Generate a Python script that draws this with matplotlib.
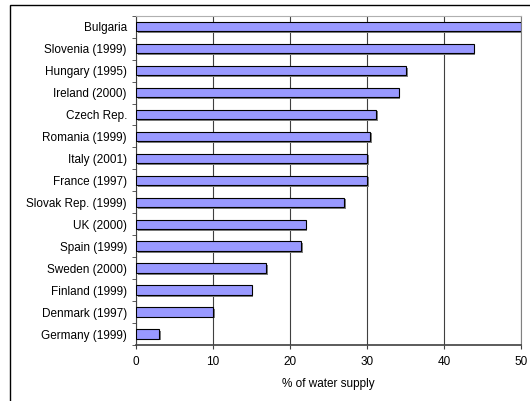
import matplotlib
matplotlib.use("Agg")
import matplotlib.pyplot as plt
import matplotlib.patheffects as pe
from matplotlib.patches import Rectangle

countries = ["Bulgaria", "Slovenia (1999)", "Hungary (1995)", "Ireland (2000)",
             "Czech Rep.", "Romania (1999)", "Italy (2001)", "France (1997)",
             "Slovak Rep. (1999)", "UK (2000)", "Spain (1999)", "Sweden (2000)",
             "Finland (1999)", "Denmark (1997)", "Germany (1999)"]
values = [50, 43.8, 35.1, 34.1, 31.2, 30.4, 30.0, 30.0, 27.0, 22.0, 21.4,
          16.9, 15.0, 10.0, 3.0]
xticks = [0, 10, 20, 30, 40, 50]

plt.rcParams['font.family'] = ['Liberation Sans', 'DejaVu Sans']

fig = plt.figure(figsize=(5.30, 4.01), dpi=100)
ax = fig.add_axes([136/530, 1 - 345/401, (521.3 - 136)/530, (345 - 15.7)/401])

# outer frame (runs off right and bottom edges like the original)
fig.patches.append(Rectangle((10/530, -0.1), 1.2, 1 - 5/401 + 0.1,
                             transform=fig.transFigure, fill=False,
                             edgecolor='black', linewidth=1.0))

n = len(countries)
ypos = list(range(n))[::-1]
bars = ax.barh(ypos, values, height=0.43, color='#9999ff', edgecolor='black',
               linewidth=0.8, zorder=3)
for b in bars:
    b.set_path_effects([pe.SimplePatchShadow(offset=(1.2, -1.2), shadow_rgbFace='#808080', alpha=1.0),
                        pe.Normal()])

ax.set_xlim(0, 50)
ax.set_ylim(-0.5, n - 0.5)
ax.set_xticks(xticks)
ax.set_xticklabels([str(t) for t in xticks], fontsize=8.5)
ax.set_yticks(ypos)
ax.set_yticklabels(countries, fontsize=8.5)
ax.set_yticks([i - 0.5 for i in range(n + 1)], minor=True)
ax.tick_params(axis='y', which='major', length=0, pad=6.5)
ax.tick_params(axis='y', which='minor', length=3, direction='out', color='#404040')
ax.tick_params(axis='x', length=3, direction='out', color='#404040', pad=5)

ax.grid(axis='x', color='#404040', linewidth=0.8, zorder=0)
ax.set_axisbelow(True)

ax.spines['top'].set_color('#b0b0b0')
ax.spines['right'].set_color('#808080')
ax.spines['left'].set_color('#404040')
ax.spines['bottom'].set_color('#404040')
ax.spines['bottom'].set_linewidth(1.2)

ax.set_xlabel("% of water supply", fontsize=8.5, labelpad=7)

fig.savefig("out.png", dpi=100)
